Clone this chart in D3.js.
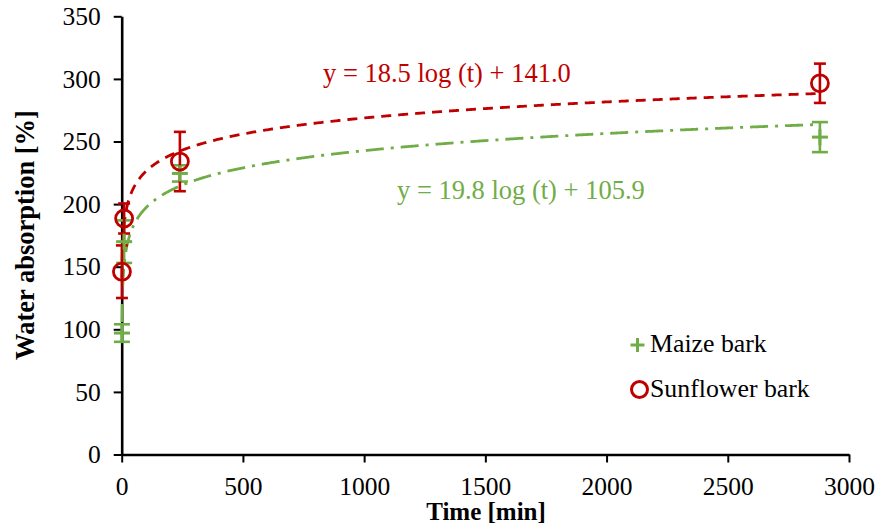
<!DOCTYPE html>
<html><head><meta charset="utf-8">
<script src="https://cdn.jsdelivr.net/npm/d3@7"></script>
<style>
html,body{margin:0;padding:0;background:#fff;}
text{font-family:"Liberation Serif","Times New Roman",serif;fill:#000;}
</style></head>
<body><svg id="c" width="878" height="528"></svg>
<script>
// ---- data ----
const maizeTime = [1, 10, 240, 2880];
const maizeValue = [97, 170, 224.5, 253.5];
const maizeError = [7, 17, 6.5, 12];
const sunTime = [1, 10, 240, 2880];
const sunValue = [146, 188.5, 234, 296.5];
const sunError = [21, 12, 23.7, 15.7];
const maizeFit = {a: 19.8, b: 105.9};
const sunFit = {a: 18.5, b: 141.0};
const xTicks = [0, 500, 1000, 1500, 2000, 2500, 3000];
const yTicks = [0, 50, 100, 150, 200, 250, 300, 350];
const seriesNames = ["Maize bark", "Sunflower bark"];
const eqMaize = "y = 19.8 log (t) + 105.9";
const eqSun = "y = 18.5 log (t) + 141.0";

const RED = "#C00000", GREEN = "#70AD47";
const FONT = '"Liberation Serif","Times New Roman",serif';
const svg = d3.select("#c");
const x = d3.scaleLinear().domain([0, 3000]).range([121.7, 849]);
const y = d3.scaleLinear().domain([0, 350]).range([454.5, 16.3]);

// axes
const xAxis = svg.append("g").attr("transform", `translate(0,${y(0)})`)
  .call(d3.axisBottom(x).tickValues(xTicks).tickFormat(d3.format("d")).tickSize(8).tickPadding(14).tickSizeOuter(0));
const yAxis = svg.append("g").attr("transform", `translate(${x(0)},0)`)
  .call(d3.axisLeft(y).tickValues(yTicks).tickFormat(d3.format("d")).tickSize(8).tickPadding(13).tickSizeOuter(0));
[xAxis, yAxis].forEach(g => {
  g.attr("font-family", FONT).attr("font-size", 25);
  g.select(".domain").attr("stroke", "#000").attr("stroke-width", 2.6);
  g.selectAll(".tick line").attr("stroke", "#000").attr("stroke-width", 2);
  g.selectAll(".tick text").style("font-family", FONT).style("font-size", "25.5px").attr("fill", "#000");
});
xAxis.selectAll(".tick text").attr("dy", "0.71em");

// titles
svg.append("text").attr("x", 486).attr("y", 520).attr("text-anchor", "middle")
  .style("font-size", "25px").style("font-weight", "bold").text("Time [min]");
svg.append("text").attr("transform", "translate(34,235) rotate(-90)").attr("text-anchor", "middle")
  .style("font-size", "26.5px").style("font-weight", "bold").text("Water absorption [%]");

// trendlines
function fitPts(fit) {
  const pts = [];
  for (let t = 1; t <= 10; t += 0.25) pts.push(t);
  for (let t = 11; t <= 2880; t += 5) pts.push(t);
  pts.push(2880);
  return pts.map(t => [x(t), y(fit.a * Math.log(t) + fit.b)]);
}
const line = d3.line();
svg.append("path").attr("d", line(fitPts(maizeFit))).attr("fill", "none")
  .attr("stroke", GREEN).attr("stroke-width", 2.8).attr("stroke-dasharray", "18,7,3,7");
svg.append("path").attr("d", line(fitPts(sunFit))).attr("fill", "none")
  .attr("stroke", RED).attr("stroke-width", 2.8).attr("stroke-dasharray", "10,7");

// error bars + markers
function errBars(times, vals, errs, color, cap) {
  const g = svg.append("g").attr("stroke", color).attr("stroke-width", 2.6);
  times.forEach((t, i) => {
    const cx = x(t), y1 = y(vals[i] - errs[i]), y2 = y(vals[i] + errs[i]);
    g.append("line").attr("x1", cx).attr("x2", cx).attr("y1", y1).attr("y2", y2);
    g.append("line").attr("x1", cx - cap).attr("x2", cx + cap).attr("y1", y1).attr("y2", y1);
    g.append("line").attr("x1", cx - cap).attr("x2", cx + cap).attr("y1", y2).attr("y2", y2);
  });
}
errBars(maizeTime, maizeValue, maizeError, GREEN, 8);
errBars(sunTime, sunValue, sunError, RED, 6);

function plus(g, cx, cy, s, color) {
  g.append("line").attr("x1", cx - s).attr("x2", cx + s).attr("y1", cy).attr("y2", cy).attr("stroke", color).attr("stroke-width", 3);
  g.append("line").attr("x1", cx).attr("x2", cx).attr("y1", cy - s).attr("y2", cy + s).attr("stroke", color).attr("stroke-width", 3);
}
const mg = svg.append("g");
maizeTime.forEach((t, i) => plus(mg, x(t), y(maizeValue[i]), 8, GREEN));
const sg = svg.append("g");
sunTime.forEach((t, i) => sg.append("circle").attr("cx", x(t)).attr("cy", y(sunValue[i])).attr("r", 8.5)
  .attr("fill", "none").attr("stroke", RED).attr("stroke-width", 2.8));

// equations
svg.append("text").attr("x", 323).attr("y", 82).style("font-size", "26.5px").style("fill", RED).text(eqSun);
svg.append("text").attr("x", 397).attr("y", 199).style("font-size", "26.5px").style("fill", GREEN).text(eqMaize);

// legend
const lg = svg.append("g");
plus(lg, 637.5, 345, 7, GREEN);
lg.append("text").attr("x", 650).attr("y", 352).style("font-size", "25.8px").text(seriesNames[0]);
lg.append("circle").attr("cx", 639.5).attr("cy", 389.5).attr("r", 8).attr("fill", "none").attr("stroke", RED).attr("stroke-width", 3);
lg.append("text").attr("x", 650).attr("y", 397).style("font-size", "25.8px").text(seriesNames[1]);
</script></body></html>
